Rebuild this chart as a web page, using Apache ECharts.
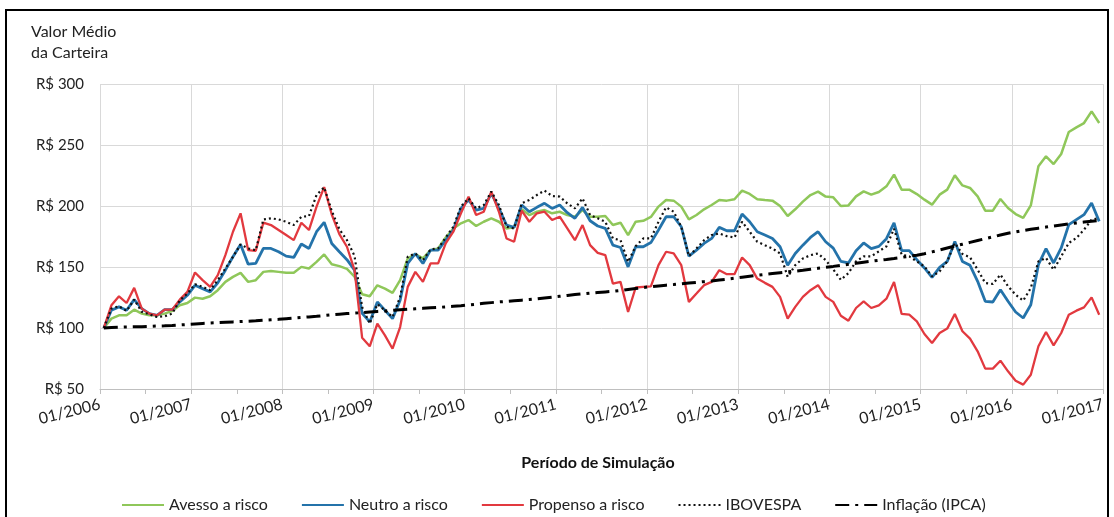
<!DOCTYPE html>
<html>
<head>
<meta charset="utf-8">
<script src="https://cdn.jsdelivr.net/npm/echarts@6/dist/echarts.min.js"></script>
<style>
html,body{margin:0;padding:0;background:#fff;}
#chart{width:1114px;height:517px;}
</style>
</head>
<body>
<div id="chart"></div>
<script>
// Year tick labels (one every 12 months)
const yearLabels = ['01/2006','01/2007','01/2008','01/2009','01/2010','01/2011','01/2012','01/2013','01/2014','01/2015','01/2016','01/2017'];
const seriesNames = ['Avesso a risco','Neutro a risco','Propenso a risco','IBOVESPA','Inflação (IPCA)'];

// Monthly values, Jan/2006 .. Dec/2016
const avesso = [
 100,107.7,110.4,110.4,115,111.8,110.4,110.4,111.8,114,118.6,120.5,
 124.9,124,126,131,137.8,141.9,145.2,137.8,139.2,146,146.8,146,
 145.2,145.2,150.1,148.8,154.2,160.3,152.3,150.7,148.5,142,127.7,126,
 135,132.3,128.8,139.2,157,160.5,157,163.8,165.2,174.2,181.6,185.8,
 188.5,183.6,187.1,189.9,187.1,181.6,182.5,197.3,192.6,195.3,196.7,194,
 195.3,192.6,191.2,196.7,191.2,191.2,191.8,184.4,186.3,176.2,187.1,187.9,
 191,199.5,204.9,204.4,199.5,189,192.6,197.3,200.8,204.9,204.4,205.5,
 212.6,209.9,205.5,204.9,204.4,200,191.8,197.3,203.6,209,211.8,207.7,
 207.1,200,200.5,207.9,212,209.3,211.5,216.1,225.7,213.4,213.4,209.8,
 205.2,201.1,209.3,213.4,225.1,216.9,214.8,207.9,196.2,196.2,205.7,198.4,
 193.4,190.2,200.5,232.5,240.7,234.4,242.6,260.7,264.5,268,277.6,268
];
const neutro = [
 100,114.5,117.3,114.5,123.3,115.9,111.8,110.4,115,115,121.4,126.8,
 135,132.3,129.6,137,147.4,158.4,168.5,152.3,152.9,165.2,165.2,162.5,
 158.9,157.8,168.8,165.2,178.9,186.6,169.3,162.5,156,147.4,112,105,
 121.4,114.5,107.7,122.7,152.9,161,152.9,163.8,163.8,172,180.3,198,
 205,196.7,198,210.4,198,184.4,182.5,200.8,195.3,198.9,202.2,198,
 200.8,194.5,189.9,198.9,187.9,183.6,181.6,167.9,166,150.1,166.6,166.6,
 170,180.3,191.2,191.2,183,158.9,163.8,169.3,173.4,182.5,179.7,179.7,
 193.4,187.1,178.9,176.2,173.4,166.6,151.5,161.1,167.9,174.2,178.9,170.7,
 165.5,154.6,153.3,163.4,169.7,165,166.9,173.2,186.1,163.4,163.4,156,
 149.2,141.5,149.7,154.6,171,154.6,151.4,138.3,121.9,121.3,131.4,121.9,
 113.1,108.2,119.1,151.9,165,153.3,165.6,184.7,188.8,192.9,202.5,187.4
];
const propenso = [
 100,118.6,126,120.5,132.9,115.9,111.8,110.4,115,115,123.3,129.6,
 145.5,139.2,133.7,143.3,159.7,178.9,194,163.8,163.3,186.3,184.4,180.3,
 176.2,172,186.3,180.3,199.5,215.5,193,177,166.6,147.4,92,85,
 103.6,94,83,100.8,133.7,146,137.8,152.9,152.9,169.3,178.9,194,
 207.7,192.6,195.3,211.8,195.3,173.4,170.7,196.2,187.1,194,195.3,188.5,
 191.2,181.6,172,184.4,167.9,161.6,159.7,136.4,137.8,113.2,133.2,133.7,
 134.2,151.5,162.5,161.1,151.5,121.4,128.2,135.1,137.8,147.4,144.1,144.1,
 157.8,151.5,140.5,137,133.7,125.5,107.7,117.3,125.5,131,135.1,125.5,
 121.4,110,106,116.4,121.9,116.4,118.6,124,137.7,111.5,110.9,105.5,
 95.1,87.7,95.9,99.5,111.5,97.3,91.3,80.9,66.7,66.7,73.2,64.5,
 56.8,53.6,61.7,85,96.7,85.8,95.9,110.9,114.2,116.9,125.1,110.9
];
const ibovespa = [
 100,115.9,117.8,114,123.3,113.2,111.2,109,109.6,111.8,122.7,128.2,
 135.9,133.7,131,139.2,148.8,158.4,168.5,165.2,163.8,189,189.9,189,
 187.1,184.4,191.2,191.8,209,215.3,196,181,172,159,117,103.6,
 119.5,114.5,109,125.5,158.4,161,155.6,164.4,165.2,174.2,183,199.5,
 206.3,198,200.8,211.8,200.8,183,181.6,202.2,204.9,209,212.6,208.2,
 207.7,202.2,198,206.3,192.6,189.9,187.1,173.4,172,154.2,167.1,173.4,
 173.4,187.1,198.9,195.3,183,158.9,165.2,172,176.2,177.5,175.3,174.2,
 187.1,178.9,170.7,167.9,165.2,161.1,141.9,151.5,157,159.7,161.1,155.6,
 148,139.5,145,154.6,158.7,158.7,162.8,166.9,181.4,160.1,158.7,154.6,
 150.5,142.3,146.4,154.6,169.7,160.7,157.9,147.8,136.9,136.1,143.7,134.2,
 127.3,122.4,132.8,154.6,157.4,147.8,158.7,169.7,173.8,180.6,188.8,190.2
];
const ipca = [
 100.0,100.4,100.7,100.9,101.0,101.1,101.3,101.6,101.8,102.1,102.5,102.9,
 103.3,103.7,104.1,104.4,104.7,105.0,105.3,105.6,105.9,106.3,106.7,107.1,
 107.6,108.1,108.6,109.1,109.6,110.2,110.8,111.3,111.8,112.2,112.6,113.1,
 113.6,114.0,114.5,114.9,115.3,115.7,116.1,116.5,116.9,117.3,117.8,118.3,
 118.9,119.5,120.2,120.8,121.4,121.8,122.3,122.8,123.3,123.9,124.6,125.3,
 126.0,126.7,127.4,128.0,128.6,129.1,129.6,130.1,130.8,131.6,132.4,133.2,
 133.9,134.5,135.1,135.6,136.2,136.8,137.4,138.0,138.6,139.3,140.0,140.8,
 141.6,142.4,143.2,143.9,144.6,145.3,146.0,146.6,147.3,148.1,148.9,149.7,
 150.5,151.4,152.2,153.0,153.9,154.7,155.5,156.2,157.0,157.9,158.8,159.7,
 160.9,162.4,164.0,165.6,167.2,168.7,170.2,171.7,173.2,174.7,176.2,177.6,
 178.8,179.9,180.9,181.8,182.7,183.6,184.5,185.3,186.1,186.8,187.5,188.2
];

const FONT = 'Lato, "Open Sans", sans-serif';
// each month is drawn at the centre of its month slot on a 0..132 month axis
const toPairs = arr => arr.map((v, i) => [i + 0.5, v]);

function lineSeries(name, data, color, width, type) {
  return {
    name: name, type: 'line', data: toPairs(data), symbol: 'none', showSymbol: false,
    lineStyle: { color: color, width: width, type: type || 'solid' },
    itemStyle: { color: color },
    emphasis: { disabled: true }, animation: false
  };
}

const chart = echarts.init(document.getElementById('chart'), null, { renderer: 'canvas' });
chart.setOption({
  backgroundColor: '#ffffff',
  animation: false,
  title: {
    text: 'Valor Médio\nda Carteira',
    left: 26, top: 16,
    textStyle: { fontFamily: FONT, fontSize: 16, fontWeight: 'normal', color: '#222', lineHeight: 21 }
  },
  graphic: [
    { type: 'rect', shape: { x: 6, y: 10, width: 1102, height: 530 },
      style: { fill: 'none', stroke: '#000', lineWidth: 2 }, silent: true },
    { type: 'text', x: 598, y: 455,
      style: { text: 'Período de Simulação', fontFamily: FONT, fontSize: 16, fontWeight: 'bold',
               fill: '#111', align: 'center', verticalAlign: 'top' } }
  ],
  legend: {
    left: 116, top: 492, itemWidth: 42, itemHeight: 12, itemGap: 33,
    itemStyle: { opacity: 0 },
    data: seriesNames,
    textStyle: { fontFamily: FONT, fontSize: 16, color: '#222' }
  },
  grid: { left: 100, right: 11, top: 84, bottom: 128, containLabel: false },
  xAxis: {
    type: 'value', min: 0, max: 132, interval: 12,
    axisLine: { show: true, lineStyle: { color: '#bfbfbf', width: 1 } },
    axisTick: { show: true, length: 5, lineStyle: { color: '#bfbfbf' } },
    minorTick: { show: true, splitNumber: 2, length: 5, lineStyle: { color: '#bfbfbf' } },
    splitLine: { show: true, lineStyle: { color: '#d9d9d9', width: 1 } },
    axisLabel: {
      rotate: 14, margin: 15, fontFamily: FONT, fontSize: 16, color: '#222',
      formatter: v => yearLabels[Math.round(v / 12)]
    }
  },
  yAxis: {
    type: 'value', min: 50, max: 300, interval: 50,
    axisLine: { show: false }, axisTick: { show: false },
    splitLine: { show: true, lineStyle: { color: '#d9d9d9', width: 1 } },
    axisLabel: { fontFamily: FONT, fontSize: 15, color: '#222', margin: 16, formatter: v => 'R$ ' + v }
  },
  series: [
    lineSeries(seriesNames[0], avesso, '#8fc75a', 2.5),
    lineSeries(seriesNames[1], neutro, '#2473aa', 2.8),
    lineSeries(seriesNames[2], propenso, '#e2393f', 2.3),
    lineSeries(seriesNames[3], ibovespa, '#111111', 2.2, [2, 3]),
    lineSeries(seriesNames[4], ipca, '#000000', 3, [14, 6, 3, 6])
  ]
});
</script>
</body>
</html>
